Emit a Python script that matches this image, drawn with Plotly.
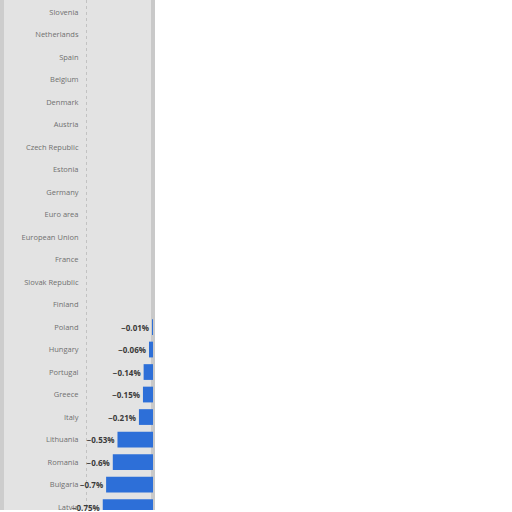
import plotly.graph_objects as go

# categories, top to bottom
countries = ["Slovenia", "Netherlands", "Spain", "Belgium", "Denmark", "Austria",
             "Czech Republic", "Estonia", "Germany", "Euro area", "European Union",
             "France", "Slovak Republic", "Finland", "Poland", "Hungary", "Portugal",
             "Greece", "Italy", "Lithuania", "Romania", "Bulgaria", "Latvia"]

# change in % (top rows are not visible in the picture -> left empty)
values = [None, None, None, None, None, None, None, None, None, None, None,
          None, None, None, -0.01, -0.06, -0.14, -0.15, -0.21, -0.53, -0.6, -0.7, -0.75]

labels = ["" if v is None else f"{v:g}%".replace("-", "\u2212") for v in values]

# pixel layout of the plot area
left_px, right_px = 84, 153
span = right_px - left_px
px_per_unit = 67.0

fig = go.Figure()
fig.add_trace(go.Bar(
    y=countries,
    x=values,
    orientation="h",
    marker=dict(color="#2d6fd8", line=dict(width=0)),
    text=labels,
    textposition="outside",
    textfont=dict(family="Open Sans", size=8, color="#3a3a3a", weight="bold"),
    cliponaxis=False,
    width=0.7,
    hoverinfo="skip",
))

# grey panel behind labels and bars
fig.add_shape(type="rect", xref="paper", yref="paper", layer="below",
              x0=-left_px / span, x1=(155 - left_px) / span, y0=0, y1=1,
              fillcolor="#e3e3e3", line=dict(width=0))
fig.add_shape(type="rect", xref="paper", yref="paper", layer="below",
              x0=-left_px / span, x1=(4 - left_px) / span, y0=0, y1=1,
              fillcolor="#cdcdcd", line=dict(width=0))
fig.add_shape(type="rect", xref="paper", yref="paper", layer="below",
              x0=(151 - left_px) / span, x1=(155 - left_px) / span, y0=0, y1=1,
              fillcolor="#c9c9c9", line=dict(width=0))

n = len(countries)
fig.update_layout(
    width=512, height=512, autosize=False,
    margin=dict(l=left_px, r=512 - right_px, t=0, b=0),
    paper_bgcolor="white",
    plot_bgcolor="rgba(0,0,0,0)",
    showlegend=False,
    xaxis=dict(range=[-span / px_per_unit, 0], dtick=1, tick0=0,
               showgrid=True, gridcolor="#c2c2c2", griddash="dot", gridwidth=1,
               zeroline=False, showticklabels=False, showline=False),
    yaxis=dict(type="category", range=[n - 1 + 0.13, -0.53],
               showgrid=False, zeroline=False, showline=False,
               ticks="outside", ticklen=3, tickcolor="rgba(0,0,0,0)",
               tickfont=dict(family="Open Sans", size=7.5, color="#707070")),
)

# page without the default body margin so the chart sits in the corner
fig.write_html("out.html", config={"displayModeBar": False},
               post_script="document.body.style.margin='0';")
